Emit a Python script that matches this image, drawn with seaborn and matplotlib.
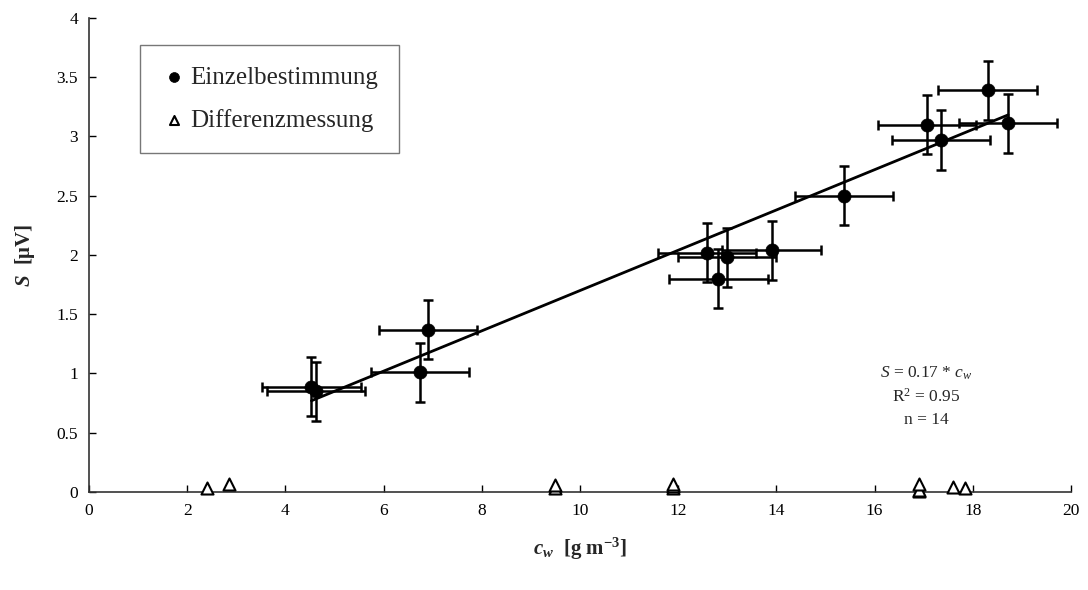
import numpy as np
import pandas as pd
import matplotlib
matplotlib.use("Agg")
import matplotlib.pyplot as plt
import seaborn as sns

# Einzelbestimmung: water concentration vs. signal, with uncertainties
cw_einzel = [4.53, 4.63, 6.74, 6.90, 12.59, 12.82, 12.99, 13.90, 15.37, 17.06, 17.35, 18.30, 18.72]
s_einzel = [0.89, 0.85, 1.01, 1.37, 2.02, 1.80, 1.98, 2.04, 2.50, 3.10, 2.97, 3.39, 3.11]
xerr_einzel = [1.0] * len(cw_einzel)
yerr_einzel = [0.25] * len(cw_einzel)

# Differenzmessung
cw_diff = [2.40, 2.85, 9.50, 9.50, 11.90, 11.90, 11.90, 16.90, 16.90, 16.90, 17.60, 17.85]
s_diff = [0.03, 0.07, 0.03, 0.06, 0.03, 0.05, 0.07, 0.01, 0.02, 0.07, 0.04, 0.03]

# Linear fit through the origin
slope = 0.17
r2 = 0.95
n_points = 14

x_ticks = [0, 2, 4, 6, 8, 10, 12, 14, 16, 18, 20]
y_ticks = [0, 0.5, 1, 1.5, 2, 2.5, 3, 3.5, 4]
y_ticklabels = ["0", "0.5", "1", "1.5", "2", "2.5", "3", "3.5", "4"]

sns.set_theme(style="white")
plt.rcParams["font.family"] = ["Liberation Serif", "DejaVu Serif"]
plt.rcParams["mathtext.fontset"] = "custom"
plt.rcParams["mathtext.rm"] = "Liberation Serif"
plt.rcParams["mathtext.it"] = "Liberation Serif:italic"
plt.rcParams["mathtext.bf"] = "Liberation Serif:bold"
plt.rcParams["mathtext.bfit"] = "Liberation Serif:bold:italic"

fig = plt.figure(figsize=(10.88, 5.90), dpi=100)
ax = fig.add_axes([0.0818, 0.1661, 0.9026, 0.8034])

df_e = pd.DataFrame({"cw": cw_einzel, "S": s_einzel})
df_d = pd.DataFrame({"cw": cw_diff, "S": s_diff})

# fit line over the range of the single determinations
x_fit = np.array([min(cw_einzel), max(cw_einzel)])
df_fit = pd.DataFrame({"cw": x_fit, "S": slope * x_fit})
sns.lineplot(data=df_fit, x="cw", y="S", ax=ax, color="black", lw=2.0, zorder=2)

ax.errorbar(cw_einzel, s_einzel, xerr=xerr_einzel, yerr=yerr_einzel, fmt="none",
            ecolor="black", elinewidth=1.8, capsize=3.5, capthick=1.8, zorder=3)

sns.scatterplot(data=df_e, x="cw", y="S", ax=ax, marker="o", s=90, color="black",
                edgecolor="black", linewidth=0.5, zorder=4, label="Einzelbestimmung")
sns.scatterplot(data=df_d, x="cw", y="S", ax=ax, marker="^", s=75, facecolor="white",
                edgecolor="black", linewidth=1.5, zorder=5, clip_on=False,
                label="Differenzmessung")

ax.set_xlim(0, 20)
ax.set_ylim(0, 4)
ax.set_xticks(x_ticks)
ax.set_xticklabels([str(t) for t in x_ticks])
ax.set_yticks(y_ticks)
ax.set_yticklabels(y_ticklabels)
ax.tick_params(axis="both", direction="in", length=5, width=1, colors="black",
               labelsize=12.5, pad=8, left=True, bottom=True)

for side in ["top", "right"]:
    ax.spines[side].set_visible(False)
for side in ["left", "bottom"]:
    ax.spines[side].set_color("#333333")
    ax.spines[side].set_linewidth(1.2)

ax.set_xlabel(r"$\mathbfit{c}_{\mathbfit{w}}$  $\mathbf{[g\ m^{-3}]}$", fontsize=15, labelpad=12)
ax.set_ylabel(r"$\mathbfit{S}$  $\mathbf{[\mu V]}$", fontsize=15, labelpad=14)

# fit statistics
fit_x = 17.05
ax.text(fit_x, 1.00,
        r"$\mathit{S}$ = " + f"{slope:.2f}" + r" * $\mathit{c}_{\mathit{w}}$",
        ha="center", va="center", fontsize=12.5)
ax.text(fit_x, 0.80, r"R$^{2}$ = " + f"{r2:.2f}", ha="center", va="center", fontsize=12.5)
ax.text(fit_x, 0.61, f"n = {n_points}", ha="center", va="center", fontsize=12.5)

leg = ax.legend(loc="upper left", bbox_to_anchor=(0.052, 0.943), frameon=True,
                fancybox=False, edgecolor="#555555", fontsize=18, handletextpad=0.15,
                handlelength=1.0, borderpad=0.85, labelspacing=0.8, markerscale=0.75,
                borderaxespad=0)
leg.get_frame().set_linewidth(1.0)

fig.savefig("out.png", dpi=100)
